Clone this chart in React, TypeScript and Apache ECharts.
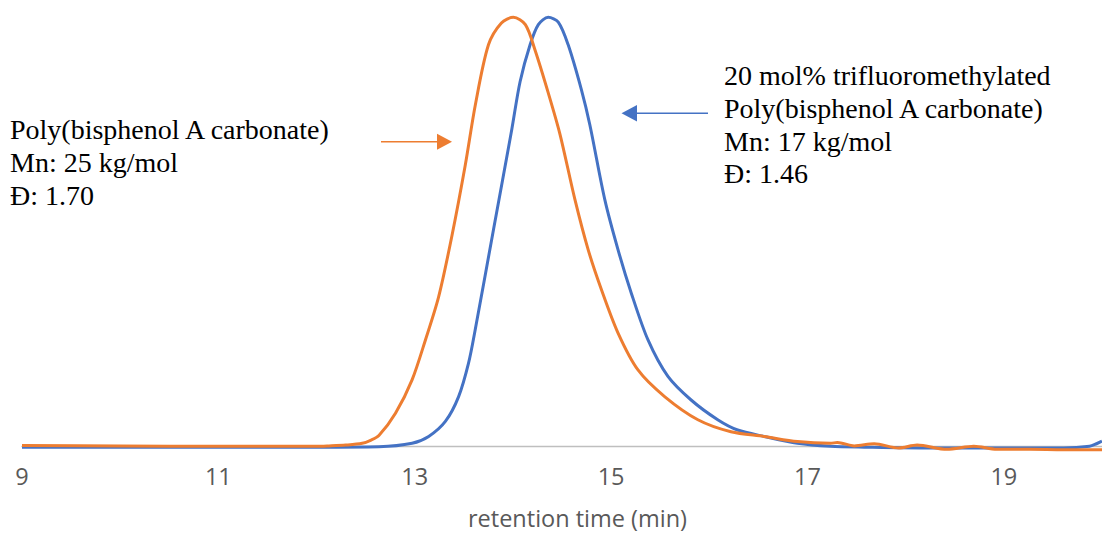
import React, { useEffect, useRef } from "react";
import * as echarts from "echarts";

// retention time (min) and normalised detector response
const orangeTime = [9, 10, 11, 12, 12.127, 12.297, 12.465, 12.55, 12.635, 12.804, 12.973, 13.109, 13.244, 13.379, 13.515, 13.619, 13.751, 13.883, 14.005, 14.127, 14.225, 14.36, 14.479, 14.632, 14.767, 14.902, 15.071, 15.274, 15.545, 15.884, 16.221, 16.56, 16.898, 17.234, 17.305, 17.477, 17.68, 17.929, 18.117, 18.421, 18.695, 18.929, 19.264, 19.609, 19.944, 20];
const orangeValue = [0.002, 0.001, 0.0, 0.0, 0.001, 0.003, 0.007, 0.014, 0.025, 0.077, 0.155, 0.248, 0.349, 0.491, 0.656, 0.798, 0.936, 0.987, 1.0, 0.983, 0.924, 0.824, 0.728, 0.575, 0.458, 0.365, 0.264, 0.178, 0.116, 0.062, 0.034, 0.023, 0.011, 0.007, 0.009, 0.001, 0.006, -0.004, 0.003, -0.007, 0.0, -0.007, -0.007, -0.008, -0.008, -0.008];

const blueTime = [9, 11, 12, 12.635, 12.973, 13.142, 13.312, 13.447, 13.548, 13.616, 13.802, 13.988, 14.073, 14.175, 14.259, 14.36, 14.462, 14.563, 14.698, 14.784, 14.936, 15.071, 15.206, 15.376, 15.579, 15.815, 16.086, 16.289, 16.56, 16.898, 17.234, 17.579, 18.249, 18.929, 19.609, 19.873, 19.944, 20];
const blueValue = [-0.002, -0.002, -0.002, -0.001, 0.007, 0.023, 0.058, 0.116, 0.194, 0.272, 0.505, 0.738, 0.85, 0.936, 0.983, 1.0, 0.989, 0.936, 0.831, 0.749, 0.575, 0.458, 0.357, 0.248, 0.163, 0.108, 0.062, 0.038, 0.023, 0.007, 0.0, -0.002, -0.004, -0.004, -0.004, 0.0, 0.006, 0.012];

const xMin = 9;
const xMax = 20;
const xInterval = 2;

const axisTitle = "retention time (min)";
const leftNote = ["Poly(bisphenol A carbonate)", "Mn: 25 kg/mol", "Đ: 1.70"];
const rightNote = ["20 mol% trifluoromethylated", "Poly(bisphenol A carbonate)", "Mn: 17 kg/mol", "Đ: 1.46"];

const ORANGE = "#ED7D31";
const BLUE = "#4472C4";
const SERIF = "'Liberation Serif', 'Times New Roman', serif";
const SANS = "'Open Sans', sans-serif";

export default function App() {
  const ref = useRef<HTMLDivElement>(null);
  useEffect(() => {
    document.body.style.margin = "0";
    if (!ref.current) return;
    const chart = echarts.init(ref.current, undefined, { renderer: "svg" });
    const noteText = (lines: string[], x: number, y0: number, step: number) =>
      lines.map((t, i) => ({
        type: "text",
        x,
        y: y0 + i * step,
        style: {
          text: t,
          font: `28px ${SERIF}`,
          fill: "#000000",
          textAlign: "left",
          textVerticalAlign: "middle",
        },
      }));
    chart.setOption({
      animation: false,
      grid: { left: 22, top: 4.5, width: 1083.5, height: 454.7 },
      xAxis: {
        type: "value",
        min: xMin,
        max: xMax,
        interval: xInterval,
        axisLine: { show: true, onZero: true, lineStyle: { color: "#BFBFBF", width: 1.3 } },
        axisTick: { show: false },
        splitLine: { show: false },
        axisLabel: {
          color: "#595959",
          fontSize: 23.5,
          fontFamily: SANS,
          margin: 4.5,
          showMaxLabel: false,
        },
      },
      yAxis: {
        type: "value",
        min: -0.03,
        max: 1.03,
        show: false,
        splitLine: { show: false },
      },
      series: [
        {
          type: "line",
          data: blueTime.map((t, i) => [t, blueValue[i]]),
          smooth: 0.3,
          showSymbol: false,
          lineStyle: { color: BLUE, width: 3 },
          itemStyle: { color: BLUE },
        },
        {
          type: "line",
          data: orangeTime.map((t, i) => [t, orangeValue[i]]),
          smooth: 0.3,
          showSymbol: false,
          lineStyle: { color: ORANGE, width: 3 },
          itemStyle: { color: ORANGE },
        },
      ],
      graphic: [
        ...noteText(leftNote, 10, 129, 33.3),
        ...noteText(rightNote, 724, 75.5, 32.8),
        {
          type: "line",
          shape: { x1: 381, y1: 141.7, x2: 440, y2: 141.7 },
          style: { stroke: ORANGE, lineWidth: 1.5 },
        },
        {
          type: "polygon",
          shape: { points: [[452, 141.7], [437, 133.7], [437, 149.7]] },
          style: { fill: ORANGE },
        },
        {
          type: "line",
          shape: { x1: 634, y1: 113.3, x2: 708, y2: 113.3 },
          style: { stroke: BLUE, lineWidth: 1.5 },
        },
        {
          type: "polygon",
          shape: { points: [[621.5, 113.3], [637, 105], [637, 121.6]] },
          style: { fill: BLUE },
        },
        {
          type: "text",
          x: 577.5,
          y: 518,
          style: {
            text: axisTitle,
            font: `23.5px ${SANS}`,
            fill: "#595959",
            textAlign: "center",
            textVerticalAlign: "middle",
          },
        },
      ],
    });
    return () => chart.dispose();
  }, []);
  return <div ref={ref} style={{ width: 1102, height: 534 }} />;
}
